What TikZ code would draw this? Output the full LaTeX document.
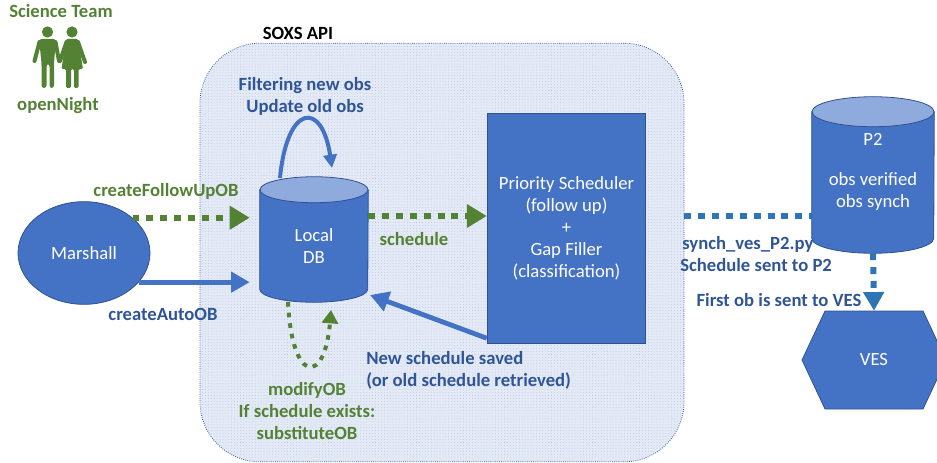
\documentclass[tikz,border=0pt]{standalone}
\usepackage{fontspec}
\setmainfont{Carlito}
\usetikzlibrary{arrows.meta,shapes.geometric,patterns.meta,calc}
\definecolor{boxblue}{HTML}{4472C4}
\definecolor{edgeblue}{HTML}{2F528F}
\definecolor{topblue}{HTML}{8FAADC}
\definecolor{txtblue}{HTML}{2F5597}
\definecolor{dotblue}{HTML}{2E75B6}
\definecolor{grn}{HTML}{548235}
\definecolor{panel}{HTML}{E4EAF5}
\tikzset{
 shapefont/.style={font=\fontsize{14}{16.5}\selectfont},
 shapebox/.style={draw=edgeblue,line width=.6pt,text=white,align=center,shapefont,inner sep=0pt},
 solidbox/.style={shapebox,fill=boxblue},
 barrelframe/.style={inner sep=0pt,draw=none},
 barrelline/.style={draw=edgeblue,line width=.6pt},
 barreltext/.style={text=white,align=center,shapefont,inner sep=0pt},
 greenlbl/.style={text=grn,font=\bfseries\fontsize{14}{16.5}\selectfont,align=center,inner sep=0pt},
 bluelbl/.style={text=txtblue,font=\bfseries\fontsize{14}{16.5}\selectfont,align=center,inner sep=0pt},
 greendash/.style={draw=grn,line width=4.5pt,dash pattern=on 5.2pt off 5.2pt,-{Triangle[length=15pt,width=17pt,fill=grn]}},
 bluedash/.style={draw=dotblue,line width=4.5pt,dash pattern=on 5.2pt off 5.2pt},
 bluearrow/.style={draw=boxblue,line width=3.6pt,-{Triangle[length=14pt,width=15pt,fill=boxblue]}},
 loopblue/.style={draw=boxblue,line width=3pt,-{Triangle[length=10pt,width=10pt,fill=boxblue]}},
 person/.style={fill=grn,draw=none},
 limb/.style={draw=grn,line width=3pt,line cap=round},
}
% #1 frame node, #2 x radius, #3 y radius
\newcommand\drawbarrel[3]{%
 \draw[barrelline,fill=boxblue] ($(#1.north west)+(0pt,-#3)$) -- ($(#1.south west)+(0pt,#3)$)
   arc[start angle=180,end angle=360,x radius=#2,y radius=#3] -- ($(#1.north east)+(0pt,-#3)$) -- cycle;
 \draw[barrelline,fill=topblue] ($(#1.north)+(0pt,-#3)$) ellipse[x radius=#2,y radius=#3];
}
\begin{document}
\begin{tikzpicture}[x=.75pt,y=-.75pt]
\useasboundingbox (0,0) rectangle (937,463);
\clip (0,0) rectangle (937,463);
% panel
\node[draw=txtblue,densely dotted,line width=.6pt,fill=panel,rounded corners=45pt,minimum width=363pt,minimum height=314pt,inner sep=0pt] (api) at (442,252.5) {};
\fill[pattern={Dots[radius=.25pt,distance=2.2pt]},pattern color=boxblue!55,rounded corners=45pt] (200,43) rectangle (684,462);
% shapes
\node[solidbox,ellipse,minimum width=99pt,minimum height=77pt] (marshall) at (84,253) {Marshall};
\node[barrelframe,minimum width=81pt,minimum height=93.75pt] (db) at (314,239.5) {};
\drawbarrel{db}{40.5pt}{9.75pt}
\node[barreltext] (dbtext) at (314,246) {Local\\DB};
\node[solidbox,minimum width=119pt,minimum height=173pt] (sched) at (566.5,228.5) {Priority Scheduler\\(follow up)\\+\\Gap Filler\\(classification)};
\node[barrelframe,minimum width=91.5pt,minimum height=117pt] (ptwo) at (873,175) {};
\drawbarrel{ptwo}{45.75pt}{11.25pt}
\node[barreltext] (ptext) at (873,172) {P2\\[13pt]obs verified\\obs synch};
\draw[draw=edgeblue,fill=boxblue,line width=.6pt] (802,360) -- (825,311) -- (923,311) -- (946,360) -- (923,409) -- (825,409) -- cycle;
\node[text=white,shapefont,minimum width=108pt,minimum height=73.5pt,inner sep=0pt] (ves) at (874,360) {VES};
\coordinate (sy) at (0,216);
\coordinate (dbtip) at (370,295);
\coordinate (loopa) at (280,178);
\coordinate (loopb) at (332,168);
\coordinate (gloopa) at (288,302);
\coordinate (gloopb) at (331,310);
% connectors
\draw[greendash,shorten >=7.5pt] (marshall.36) -- (db.west |- marshall.36);
\draw[bluearrow,shorten >=7.5pt] (marshall.-28) -- (db.west |- marshall.-28);
\draw[greendash] (db.east |- sy) -- (sched.west |- sy);
\draw[bluedash] (api.east |- sy) -- (ptwo.west |- sy);
\draw[bluedash] (ptwo.south) -- ($(ptwo.south)!.68!(ves.north)$) coordinate (vesmid);
\draw[draw=dotblue,-{Triangle[length=14pt,width=15pt,fill=dotblue]},line width=4.5pt] (vesmid) -- (ves.north);
\draw[bluearrow] (sched.-126) -- (dbtip);
\draw[loopblue] (loopa) .. controls (287,104) and (322,100) .. (loopb);
\draw[greendash,line width=3pt,dash pattern=on 3.5pt off 4.5pt,-{Triangle[length=10pt,width=12pt,fill=grn]}] (gloopa) .. controls (292,385) and (325,385) .. (gloopb);
% people
\fill[person] (47.5,32) circle (5.6);
\fill[person] (72,32) circle (5.6);
\fill[person,rounded corners=2pt] (39,39) -- (56,39) -- (54,63) -- (54,88) -- (49.5,88) -- (49.5,64) -- (46.5,64) -- (46.5,88) -- (41.5,88) -- (41.5,63) -- cycle;
\draw[limb] (39.5,42) -- (34.5,61);
\draw[limb] (55.5,42) -- (59,61);
\fill[person,rounded corners=1pt] (66,39) -- (78,39) -- (83,69) -- (78.5,69) -- (78.5,88) -- (74,88) -- (74,69) -- (71,69) -- (71,88) -- (66,88) -- (66,69) -- (61.5,69) -- cycle;
\draw[limb] (66.5,42) -- (60,61);
\draw[limb] (78,42) -- (85,62);
% labels
\node[greenlbl] (sci) at (61,11) {Science Team};
\node[greenlbl] (night) at (58,106) {openNight};
\node[inner sep=0pt,font=\bfseries\fontsize{14}{16.5}\selectfont] (soxs) at (298,33) {SOXS API};
\node[bluelbl] (filt) at (305,96) {Filtering new obs\\Update old obs};
\node[greenlbl] (cfu) at (166,191) {createFollowUpOB};
\node[bluelbl] (cao) at (163,314) {createAutoOB};
\node[greenlbl] (schl) at (414,239) {schedule};
\node[bluelbl,align=left,anchor=west] (syn) at (680,254) {\hspace{1.5pt}synch\_ves\_P2.py\\Schedule sent to P2};
\node[bluelbl] (first) at (779,300) {First ob is sent to VES};
\node[bluelbl,align=left,anchor=west] (news) at (366,370) {New schedule saved\\(or old schedule retrieved)};
\node[greenlbl] (mod) at (307,411) {modifyOB\\If schedule exists:\\substituteOB};
\end{tikzpicture}
\end{document}
